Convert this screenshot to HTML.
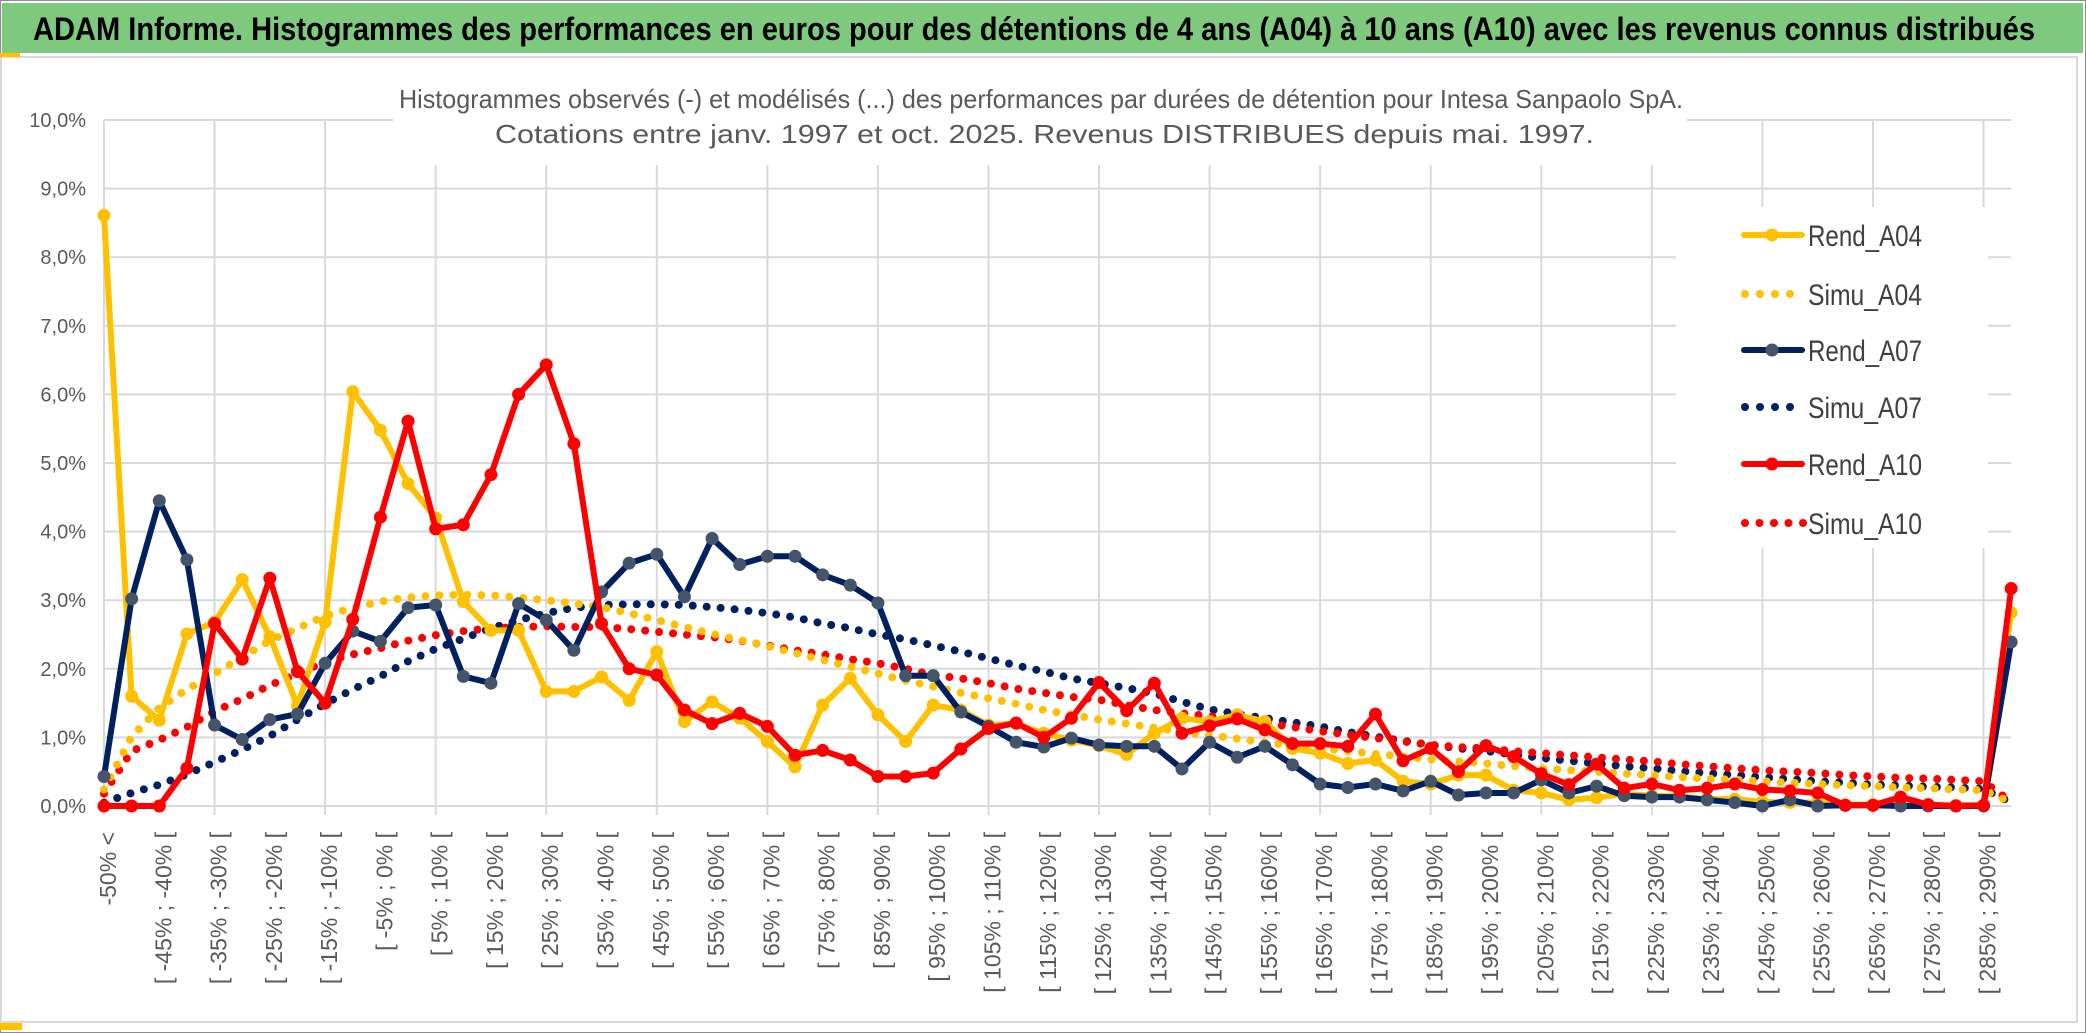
<!DOCTYPE html>
<html><head><meta charset="utf-8"><style>
html,body{margin:0;padding:0;background:#fff;}
svg{display:block;}
text{font-family:"Liberation Sans",sans-serif;}
</style></head><body>
<svg id="chart" width="2086" height="1033" viewBox="0 0 2086 1033" xmlns="http://www.w3.org/2000/svg">
<rect x="0" y="0" width="2086" height="1033" fill="#ffffff"/>
<rect x="0.5" y="0.5" width="2085" height="1032" fill="none" stroke="#8c8c8c" stroke-width="1"/>
<rect x="2" y="3" width="2081" height="50" fill="#7fc97f"/>
<text x="33" y="40" font-size="32" font-weight="bold" fill="#000" textLength="2002" lengthAdjust="spacingAndGlyphs">ADAM Informe. Histogrammes des performances en euros pour des détentions de 4 ans (A04) à 10 ans (A10) avec les revenus connus distribués</text>
<rect x="1" y="57" width="2076" height="965" fill="none" stroke="#d9d9d9" stroke-width="2"/>
<rect x="0" y="53" width="20" height="4" fill="#ffc000"/>
<rect x="0" y="1023" width="22" height="7" fill="#ffc000"/>
<g id="grid"></g>
<rect x="393" y="84" width="1294" height="38" fill="#fff"/>
<rect x="335" y="122" width="1325" height="43" fill="#fff"/>
<text x="399" y="108" font-size="26" fill="#595959" textLength="1284" lengthAdjust="spacingAndGlyphs">Histogrammes observés (-) et modélisés (...) des performances par durées de détention pour Intesa Sanpaolo SpA.</text>
<text x="495" y="143" font-size="26" fill="#595959" textLength="1099" lengthAdjust="spacingAndGlyphs">Cotations entre janv. 1997 et oct. 2025. Revenus DISTRIBUES depuis mai. 1997.</text>
<g id="yaxis"></g>
<g id="xaxis"></g>
<g id="series"></g>
<rect x="1676" y="207" width="312" height="341" fill="#fff"/>
<g id="legend"></g>
</svg>
<script>
const categories = ["-50% <"];
for (let k = 0; k < 69; k++) { categories.push("[ " + (-50 + 5 * k) + "% ; " + (-45 + 5 * k) + "% ["); }
const yTicks = [0,1,2,3,4,5,6,7,8,9,10];
const yTickLabels = ["0,0%","1,0%","2,0%","3,0%","4,0%","5,0%","6,0%","7,0%","8,0%","9,0%","10,0%"];
const rendA04 = [8.61,1.60,1.25,2.51,2.68,3.30,2.47,1.46,2.68,6.04,5.48,4.70,4.20,2.98,2.56,2.56,1.67,1.67,1.88,1.54,2.25,1.23,1.52,1.28,0.94,0.57,1.47,1.86,1.33,0.94,1.47,1.40,1.18,1.20,1.06,0.96,0.88,0.75,1.06,1.28,1.23,1.33,1.23,0.84,0.77,0.62,0.67,0.36,0.32,0.45,0.45,0.23,0.19,0.09,0.12,0.18,0.15,0.14,0.10,0.10,0.06,0.05,0.05,0.02,0.02,0.01,0.01,0.01,0.01,2.82];
const simuA04 = [0.24,1.01,1.43,1.70,1.93,2.17,2.41,2.59,2.77,2.89,2.98,3.04,3.07,3.08,3.07,3.04,3.00,2.95,2.90,2.81,2.71,2.61,2.51,2.42,2.33,2.23,2.13,2.03,1.93,1.83,1.74,1.65,1.57,1.49,1.40,1.33,1.26,1.20,1.14,1.08,1.03,0.98,0.93,0.88,0.84,0.80,0.76,0.72,0.68,0.65,0.62,0.58,0.55,0.52,0.50,0.47,0.45,0.42,0.40,0.38,0.36,0.34,0.32,0.30,0.29,0.27,0.26,0.24,0.23,0.05];
const rendA07 = [0.43,3.02,4.45,3.59,1.18,0.97,1.26,1.34,2.08,2.55,2.40,2.89,2.93,1.89,1.79,2.95,2.71,2.27,3.12,3.54,3.67,3.05,3.90,3.52,3.64,3.64,3.37,3.22,2.96,1.90,1.90,1.37,1.16,0.93,0.86,0.99,0.89,0.87,0.87,0.54,0.93,0.71,0.87,0.60,0.32,0.27,0.32,0.22,0.36,0.16,0.19,0.19,0.38,0.19,0.29,0.15,0.13,0.13,0.09,0.05,0.00,0.09,0.00,0.01,0.01,0.00,0.00,0.00,0.00,2.39];
const simuA07 = [0.05,0.19,0.31,0.46,0.64,0.82,1.02,1.26,1.49,1.70,1.89,2.11,2.29,2.44,2.59,2.71,2.81,2.89,2.93,2.94,2.94,2.93,2.90,2.86,2.81,2.75,2.66,2.59,2.50,2.43,2.34,2.25,2.15,2.05,1.96,1.86,1.79,1.72,1.64,1.52,1.41,1.34,1.28,1.22,1.16,1.08,1.01,0.95,0.89,0.84,0.80,0.75,0.70,0.66,0.62,0.58,0.55,0.51,0.48,0.45,0.42,0.39,0.36,0.34,0.31,0.30,0.28,0.27,0.25,0.05];
const rendA10 = [0,0,0,0.55,2.66,2.14,3.32,1.96,1.50,2.72,4.21,5.61,4.04,4.10,4.83,6.00,6.43,5.28,2.66,2.00,1.91,1.40,1.20,1.35,1.16,0.74,0.81,0.67,0.43,0.43,0.48,0.83,1.13,1.21,1.00,1.28,1.80,1.39,1.79,1.06,1.17,1.27,1.11,0.91,0.91,0.87,1.34,0.66,0.84,0.50,0.88,0.72,0.47,0.31,0.61,0.26,0.32,0.23,0.26,0.32,0.24,0.22,0.19,0.01,0.01,0.13,0.02,0.00,0.01,3.17];
const simuA10 = [0.18,0.80,0.96,1.15,1.38,1.56,1.76,1.93,2.10,2.21,2.30,2.41,2.49,2.55,2.59,2.61,2.62,2.61,2.61,2.58,2.54,2.50,2.46,2.41,2.34,2.27,2.21,2.14,2.08,2.00,1.91,1.86,1.79,1.71,1.65,1.59,1.55,1.47,1.40,1.35,1.31,1.26,1.21,1.15,1.09,1.04,0.99,0.94,0.89,0.86,0.84,0.80,0.77,0.74,0.71,0.68,0.65,0.61,0.58,0.55,0.52,0.50,0.48,0.45,0.43,0.41,0.40,0.38,0.36,0.06];

const NS = "http://www.w3.org/2000/svg";
const X0 = 104, XSTEP = 27.64, Y0 = 806, YUNIT = 68.6;
function xPos(i) { return X0 + i * XSTEP; }
function yPos(v) { return Y0 - v * YUNIT; }
function mk(tag, attrs, parent) {
  const el = document.createElementNS(NS, tag);
  for (const k in attrs) el.setAttribute(k, attrs[k]);
  parent.appendChild(el);
  return el;
}
const grid = document.getElementById("grid");
const yaxis = document.getElementById("yaxis");
const xaxis = document.getElementById("xaxis");
const seriesG = document.getElementById("series");
const legend = document.getElementById("legend");
const xEnd = xPos(categories.length - 1);

yTicks.forEach((t, k) => {
  const ln = mk("line", {x1: X0, x2: xEnd, y1: yPos(t), y2: yPos(t), stroke: "#d9d9d9", "stroke-width": 2}, grid);
  
  
  const tx = mk("text", {x: 86, y: yPos(t) + 7, "font-size": 20, fill: "#595959", "text-anchor": "end"}, yaxis);
  tx.textContent = yTickLabels[k];
  
  
});
for (let i = 0; i < categories.length; i += 4) {
  const ln = mk("line", {x1: xPos(i), x2: xPos(i), y1: yPos(10), y2: Y0 + 9, stroke: "#d9d9d9", "stroke-width": 2}, grid);
  
  
}
categories.forEach((c, i) => {
  if (i % 2 !== 0) return;
  const x = xPos(i) + 12, y = 832;
  const tx = mk("text", {x: x, y: y, "font-size": 23, fill: "#595959", "text-anchor": "end", transform: "rotate(-90 " + x + " " + y + ")"}, xaxis);
  tx.textContent = c;
  
  
});

function pathD(vals) { return vals.map((v, i) => (i ? "L" : "M") + xPos(i).toFixed(1) + " " + yPos(v).toFixed(1)).join(" "); }
function dotted(vals, color, name) {
  const p = mk("path", {d: pathD(vals), fill: "none", stroke: color, "stroke-width": 8, "stroke-linecap": "round", "stroke-dasharray": "0 14"}, seriesG);
  
  
}
function solid(vals, color, mcolor, name) {
  const p = mk("path", {d: pathD(vals), fill: "none", stroke: color, "stroke-width": 6, "stroke-linejoin": "round"}, seriesG);
  
  
  vals.forEach((v, i) => {
    const c = mk("circle", {cx: xPos(i), cy: yPos(v), r: 6.5, fill: mcolor}, seriesG);
    
    
  });
}
dotted(simuA07, "#002060", "simu-a07-line");
dotted(simuA10, "#ff0000", "simu-a10-line");
dotted(simuA04, "#ffc000", "simu-a04-line");
solid(rendA04, "#ffc000", "#ffc000", "rend-a04");
solid(rendA07, "#002060", "#44546a", "rend-a07");
solid(rendA10, "#ff0000", "#ff0000", "rend-a10");

const legNames = ["Rend_A04","Simu_A04","Rend_A07","Simu_A07","Rend_A10","Simu_A10"];
const legColors = ["#ffc000","#ffc000","#002060","#002060","#ff0000","#ff0000"];
const legY = [235,294,350,407,464,523];
legNames.forEach((n, k) => {
  const y = legY[k], col = legColors[k];
  const g = mk("g", {}, legend);
  
  
  if (k % 2 === 0) {
    mk("line", {x1: 1744, x2: 1802, y1: y, y2: y, stroke: col, "stroke-width": 6, "stroke-linecap": "round"}, g);
    mk("circle", {cx: 1772, cy: y, r: 6.5, fill: k === 2 ? "#44546a" : col}, g);
  } else {
    const n2 = k === 5 ? 5 : 4;
    for (let d = 0; d < n2; d++) mk("circle", {cx: 1745 + d * (k === 5 ? 14.5 : 15), cy: y, r: 4, fill: col}, g);
  }
  const tx = mk("text", {x: 1808, y: y + 11, "font-size": 30, fill: "#404040", textLength: 114, lengthAdjust: "spacingAndGlyphs"}, g);
  tx.textContent = n;
});
</script>
</body></html>
